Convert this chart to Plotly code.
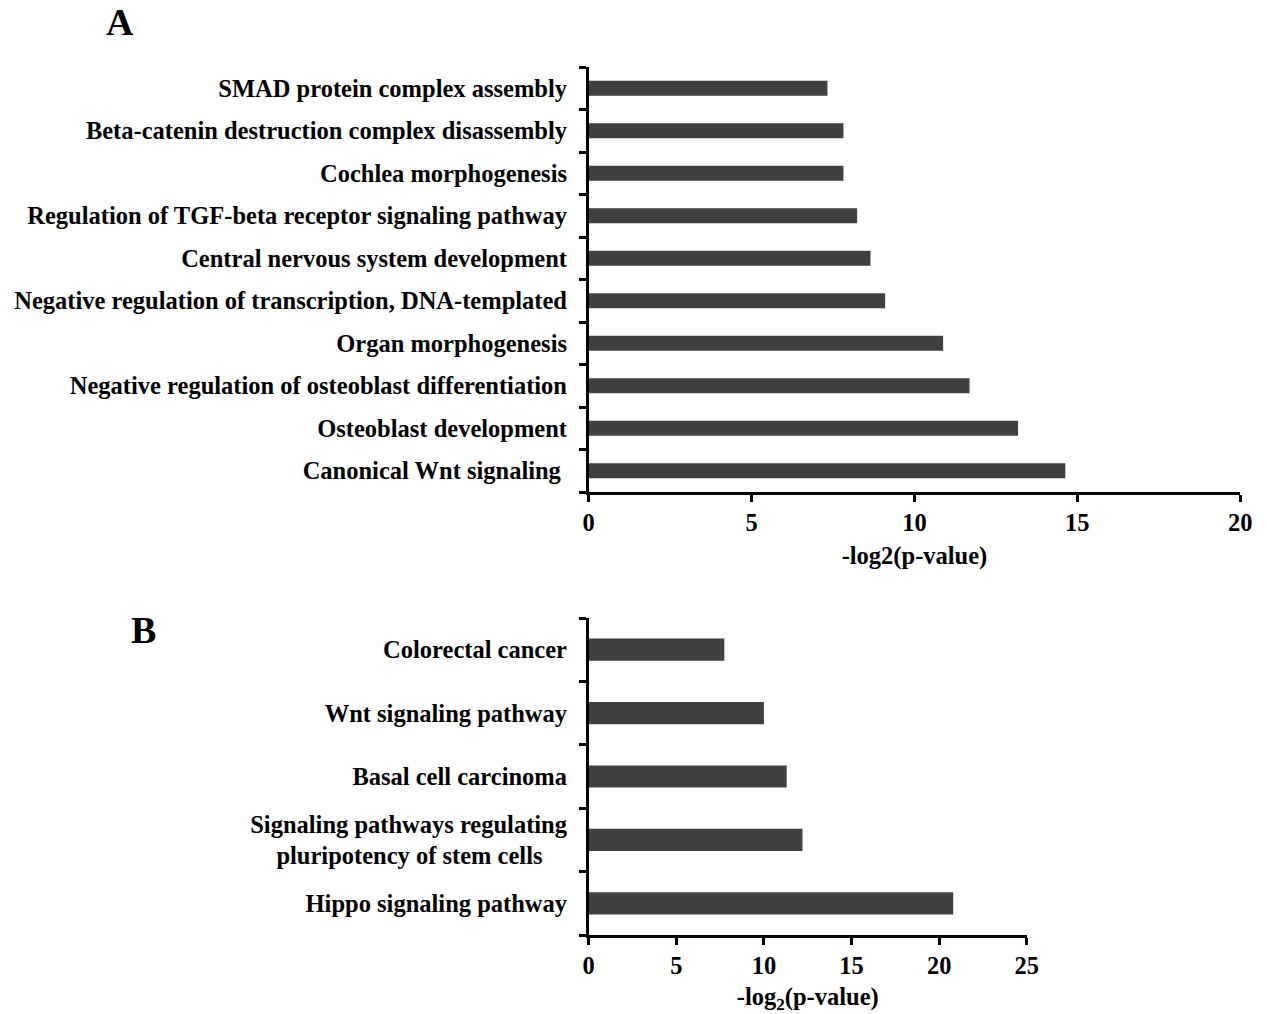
import plotly.graph_objects as go

# GO biological process terms (panel A), listed top to bottom
go_terms = [
    "SMAD protein complex assembly",
    "Beta-catenin destruction complex disassembly",
    "Cochlea morphogenesis",
    "Regulation of TGF-beta receptor signaling pathway",
    "Central nervous system development",
    "Negative regulation of transcription, DNA-templated",
    "Organ morphogenesis",
    "Negative regulation of osteoblast differentiation",
    "Osteoblast development",
    "Canonical Wnt signaling\u00a0",
]
go_scores = [7.33, 7.82, 7.82, 8.24, 8.65, 9.10, 10.88, 11.69, 13.18, 14.63]
go_ticks = [0, 5, 10, 15, 20]

# KEGG pathways (panel B), listed top to bottom
kegg_terms = [
    "Colorectal cancer",
    "Wnt signaling pathway",
    "Basal cell carcinoma",
    "Signaling pathways regulating<br>pluripotency of stem cells" + "\u00a0" * 4,
    "Hippo signaling pathway",
]
kegg_scores = [7.74, 10.0, 11.3, 12.2, 20.8]
kegg_ticks = [0, 5, 10, 15, 20, 25]

W, H = 1267, 1014
FONT = "Liberation Serif, Times New Roman, serif"
BAR = "#404040"
TXT = dict(family=FONT, size=24.5, color="black", weight="bold")


def px_y(v):
    return 1 - v / H


fig = go.Figure()
fig.add_trace(go.Bar(x=go_scores, y=go_terms, orientation="h",
                     marker=dict(color=BAR, line=dict(width=0)), width=0.35,
                     xaxis="x", yaxis="y"))
fig.add_trace(go.Bar(x=kegg_scores, y=kegg_terms, orientation="h",
                     marker=dict(color=BAR, line=dict(width=0)), width=0.35,
                     xaxis="x2", yaxis="y2"))

axis_common = dict(showline=True, linecolor="black", linewidth=2.5,
                   ticks="outside", tickcolor="black", tickwidth=2.5,
                   showgrid=False, zeroline=False, tickfont=TXT)

fig.update_layout(
    width=W, height=H, autosize=False,
    margin=dict(l=0, r=0, t=0, b=0),
    plot_bgcolor="white", paper_bgcolor="white",
    showlegend=False,
    font=dict(family=FONT, color="black"),
    xaxis=dict(domain=[0.4665, 0.9882], range=[0, 20],
               tickvals=go_ticks, ticklen=7, anchor="y",
               title=dict(text="-log2(p-value)", standoff=12, font=TXT),
               **axis_common),
    yaxis=dict(domain=[px_y(492), px_y(67)], type="category",
               categoryorder="array", categoryarray=go_terms[::-1],
               tickson="boundaries", ticklen=7, ticklabelstandoff=14, anchor="x",
               **axis_common),
    xaxis2=dict(domain=[0.4665, 0.8173], range=[0, 25],
                tickvals=kegg_ticks, ticklen=7, anchor="y2",
                title=dict(text="-log<sub>2</sub>(p-value)", standoff=10, font=TXT),
                **axis_common),
    yaxis2=dict(domain=[px_y(935), px_y(618)], type="category",
                categoryorder="array", categoryarray=kegg_terms[::-1],
                tickson="boundaries", ticklen=7, ticklabelstandoff=14, anchor="x2",
                **axis_common),
    annotations=[
        dict(text="A", x=116 / W, y=px_y(22), xref="paper", yref="paper",
             xanchor="center", yanchor="middle", showarrow=False,
             font=dict(family=FONT, size=38, color="black", weight="bold")),
        dict(text="B", x=139 / W, y=px_y(630), xref="paper", yref="paper",
             xanchor="center", yanchor="middle", showarrow=False,
             font=dict(family=FONT, size=38, color="black", weight="bold")),
    ],
)

fig.write_html("out.html")
